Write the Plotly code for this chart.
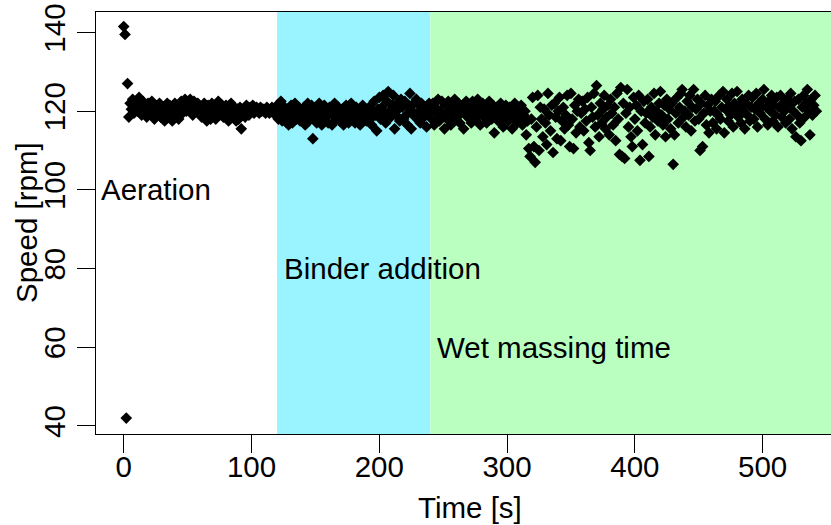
import plotly.graph_objects as go

# ---- data ----
speed_rpm = [
    141.5, 139.5, 42, 127, 118.5, 122, 120.5, 123, 119.5, 121.5,
    122, 120, 123.5, 121, 119, 122.5, 120.5, 121.5, 118.5, 122,
    121, 119.5, 122.5, 120, 118, 121.5, 119, 120.5, 122, 118.5,
    119.5, 121, 117.5, 120, 122, 118.5, 121.5, 119, 117.5, 120.5,
    122, 119, 121, 118, 120.5, 122.5, 119.5, 121.5, 123, 120,
    122, 120.5, 123, 121, 119, 122.5, 121.5, 120, 122, 119.5,
    121, 118.5, 120.5, 122, 119, 117.5, 121.5, 120, 118, 122,
    119.5, 121, 118, 120.5, 122.5, 119, 120, 121.5, 118.5, 120,
    121.5, 119, 117.5, 120, 122, 118.5, 121, 119.5, 117.5, 120.5,
    118, 121, 115.5, 119.5, 120.5, 118.5, 121.5, 120, 119, 121,
    120.5, 121.5, 119.5, 120, 121, 120.5, 119.5, 121, 120, 120.5,
    120, 119.5, 121, 120.5, 119.5, 120, 121, 119.5, 120.5, 120,
    121.5, 118, 120.5, 122.5, 117.5, 119.5, 121, 118.5, 120, 116.5,
    119, 121.5, 117, 120.5, 122, 118, 119.5, 121, 117.5, 120,
    118.5, 121, 116.5, 120, 122, 117.5, 119, 121.5, 113, 118,
    120.5, 117, 119.5, 122, 118, 116.5, 120.5, 121.5, 118.5, 119,
    117, 121, 119.5, 116.5, 120, 122, 118, 119.5, 121, 117.5,
    119, 120.5, 116.5, 118.5, 121.5, 119.5, 117, 120, 122, 118,
    119.5, 117, 121, 118.5, 120, 116.5, 119, 121.5, 118, 120,
    117.5, 119.5, 121, 118, 116.5, 120, 122.5, 119, 115, 120.5,
    123.5, 118, 121, 124, 119.5, 117, 122.5, 125, 120, 118.5,
    121.5, 124, 115.5, 119, 122, 120.5, 117.5, 123, 121, 118,
    122.5, 119, 116.5, 121, 124.5, 115.5, 120, 122, 118.5, 123,
    119.5, 121.5, 117, 122, 120, 118.5, 121, 116, 119.5, 122,
    120.5, 118, 122, 116.5, 121, 119.5, 123, 117.5, 120, 122.5,
    119, 115.5, 121.5, 118, 122.5, 120, 116.5, 121, 119, 123,
    118, 120.5, 122, 117, 119.5, 121.5, 115.5, 120, 122.5, 118.5,
    121, 119, 117, 122.5, 120, 118, 121.5, 123, 119.5, 116.5,
    120, 122, 118.5, 121, 117, 119.5, 122.5, 120, 118, 121.5,
    114.5, 119, 121, 117.5, 120.5, 122, 118.5, 116, 120, 121.5,
    119, 117.5, 121, 120, 115.5, 118.5, 122, 119.5, 117, 120.5,
    118, 121.5, 116.5, 119, 120, 114, 117.5, 110.5, 108.5, 118,
    123.5, 111, 107, 116, 124, 110, 121, 118, 113.5, 120.5,
    117, 111.5, 124.5, 119, 115, 121.5, 109.5, 122, 118.5, 113,
    120, 123.5, 112.5, 117.5, 121, 115.5, 119, 124, 116.5, 111,
    124.5, 118, 110.5, 121.5, 114.5, 120, 123, 116, 119.5, 122.5,
    115, 120.5, 117.5, 123.5, 112, 110, 121, 118.5, 124.5, 116,
    126.5, 119, 113.5, 122, 117, 120.5, 124, 115.5, 118.5, 121.5,
    114, 123, 119.5, 116.5, 121, 112.5, 124.5, 118, 109, 126,
    108.5, 122, 108, 119.5, 125.5, 116, 121, 113.5, 111, 123.5,
    118, 121.5, 115, 124, 107.5, 120, 111.5, 122.5, 117, 119.5,
    123, 108.5, 116, 121, 118.5, 124.5, 114, 120, 117.5, 122,
    125, 119, 116.5, 121.5, 113.5, 123, 118, 120.5, 115.5, 122,
    106.5, 114, 119.5, 123.5, 117, 121, 124.5, 125.5, 118.5, 120,
    116, 122.5, 119, 124, 115, 121, 125.5, 117.5, 120.5, 123,
    118, 110, 122, 111, 119.5, 124, 116.5, 121.5, 114.5, 120,
    123, 117, 120, 122.5, 115.5, 119, 124, 118, 121, 125,
    114.5, 120.5, 123, 117.5, 121, 119, 124.5, 116, 122, 120,
    125, 118.5, 121.5, 117, 123, 120, 115.5, 122, 119, 124,
    117.5, 121, 123.5, 118, 120.5, 124.5, 116, 122, 119.5, 121,
    123, 125.5, 118, 121, 116.5, 122.5, 120, 124, 117.5, 121.5,
    119, 123.5, 116, 121, 124, 118.5, 122, 120, 117, 123,
    121.5, 118, 124.5, 115.5, 120, 122.5, 113.5, 119, 123, 117,
    112.5, 121, 124, 118.5, 122, 125.5, 120, 114, 123, 119,
    121.5, 124, 120,
]
time_s = list(range(len(speed_rpm)))

phase_names = ["Aeration", "Binder addition", "Wet massing time"]
phase_start = [0, 120, 240]
phase_end = [120, 240, 600]
phase_label_x = [-19, 123.5, 243.5]
phase_label_y = [100, 80, 60]

x_ticks = [0, 100, 200, 300, 400, 500]
y_ticks = [40, 60, 80, 100, 120, 140]

FONT = "Liberation Sans, Arial, Helvetica, sans-serif"
FS = 29.5
phase_colors = [None, "#9AF4FF", "#BBFFC0"]

fig = go.Figure()

shapes = []
for s, e, c in zip(phase_start, phase_end, phase_colors):
    if c is None:
        continue
    shapes.append(dict(type="rect", xref="x", yref="paper", x0=s, x1=e, y0=0, y1=1,
                       fillcolor=c, line=dict(width=0), layer="below"))

fig.add_trace(go.Scatter(
    x=time_s, y=speed_rpm, mode="markers",
    marker=dict(symbol="diamond", size=9, color="black", line=dict(width=0)),
    showlegend=False, hoverinfo="skip",
))

annotations = []
for name, lx, ly in zip(phase_names, phase_label_x, phase_label_y):
    annotations.append(dict(x=lx, y=ly, xref="x", yref="y", text=name, showarrow=False,
                            xanchor="left", yanchor="middle",
                            font=dict(family=FONT, size=FS, color="black")))

annotations.append(dict(x=(469.5 - 96) / 735, y=(434 - 508) / 422, xref="paper", yref="paper",
                        text="Time [s]", showarrow=False, xanchor="center", yanchor="middle",
                        font=dict(family=FONT, size=FS, color="black")))
annotations.append(dict(x=(26 - 96) / 735, y=0.5, xref="paper", yref="paper",
                        text="Speed [rpm]", showarrow=False, textangle=-90,
                        xanchor="center", yanchor="middle",
                        font=dict(family=FONT, size=FS, color="black")))

fig.update_layout(
    width=831, height=525,
    margin=dict(l=96, r=0, t=12, b=91, pad=0),
    paper_bgcolor="white", plot_bgcolor="white",
    shapes=shapes, annotations=annotations,
    font=dict(family=FONT, size=FS, color="black"),
    xaxis=dict(range=[-21.7, 553.5], tickvals=x_ticks, ticks="outside", ticklen=18,
               tickwidth=1, tickcolor="black", showline=True, linecolor="black",
               linewidth=1, mirror=True, showgrid=False, zeroline=False,
               ticklabelstandoff=-11,
               tickfont=dict(family=FONT, size=FS, color="black")),
    yaxis=dict(range=[37.96, 145.2], tickvals=y_ticks, ticks="outside", ticklen=18,
               tickwidth=1, tickcolor="black", showline=True, linecolor="black",
               linewidth=1, mirror=False, showgrid=False, zeroline=False,
               tickangle=-90,
               tickfont=dict(family=FONT, size=FS, color="black")),
)

fig.write_html("out.html")
